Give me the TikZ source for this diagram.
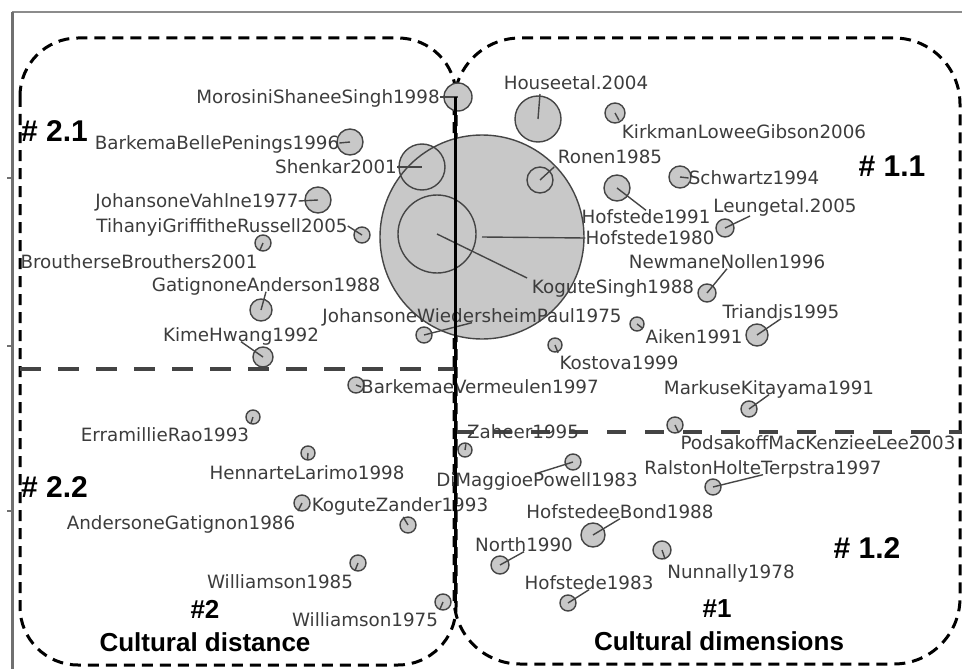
\documentclass[tikz,border=0pt]{standalone}
\usepackage{fontspec}
\setmainfont{Liberation Sans}
\newfontfamily\lblfont{DejaVu Sans}
\usetikzlibrary{calc}
\definecolor{bfill}{HTML}{C8C8C8}
\definecolor{bline}{HTML}{454545}
\definecolor{ltext}{HTML}{3C3C3C}
\definecolor{hdash}{HTML}{444444}
\definecolor{framec}{HTML}{8C8C8C}
\tikzset{
 bub/.style={circle, draw=bline, line width=1.4pt, inner sep=0pt, outer sep=0pt, minimum size=#1},
 lbl/.style={font=\lblfont\fontsize{18.3}{20}\selectfont, text=ltext, inner sep=0pt, text height=13pt, text depth=0pt},
 conn/.style={draw=bline, line width=1.4pt},
 zone/.style={draw=black, line width=3pt, dash pattern=on 11pt off 7pt},
 sepline/.style={draw=hdash, line width=4pt},
 headlbl/.style={font=\bfseries\fontsize{30}{32}\selectfont, text=black, inner sep=0pt},
 titlelbl/.style={font=\bfseries\fontsize{26}{30}\selectfont, text=black, inner sep=0pt},
 vline/.style={draw=black, line width=3pt},
}
\def\bubbles{hofeighty/482/237/102, kogsingh/437/234/39,
 morosini/458/97/14, barkema/350/142/13, shenkar/422/167/23, johvahlne/318/200/13,
 tihanyi/362/235/8, brouthers/263/243/8, gatignon/261/310/11, kimhwang/263/357/10,
 johwied/424/335/8, barkver/356/385/8, erramilli/253/417/7, hennart/308/453/7,
 andgat/302/503/8, kogzander/408/525/8, willeightyfive/358/563/8, willseventyfive/443/602/8,
 house/538/119/23, kirkman/615/113/10, ronen/540/180/13, schwartz/680/177/11,
 hofninetyone/617/188/13, leung/725/228/9, newman/707/293/9, triandis/757/335/11,
 aiken/637/324/7, kostova/555/345/7, markus/749/409/8, podsakoff/675/425/8,
 zaheer/465/450/7, dimaggio/573/462/8, ralston/713/487/8, hofbond/593/535/12,
 north/500/565/9, nunnally/662/550/9, hofeightythree/568/603/8}
\begin{document}
\begin{tikzpicture}[x=1pt,y=-1pt]
\useasboundingbox (0,0) rectangle (962,669);
% frame
\draw[framec, line width=1.2pt] (12,12) -- (962,12);
\draw[framec!80!black, line width=3pt] (12,12) -- (12,669);
\foreach \ty in {178,346,511} \draw[framec!80!black, line width=1.5pt] (7,\ty) -- (12,\ty);
% zones
\draw[zone, rounded corners=58pt] (20,38) rectangle (456,665);
\draw[zone, rounded corners=66pt] (454,38) rectangle (960,664);
\draw[sepline, dash pattern=on 21pt off 17pt] (20,369) -- (455,369);
\draw[sepline, dash pattern=on 19pt off 19pt] (455,432) -- (962,432);
% bubbles: fills then outlines
\foreach \n/\x/\y/\r in \bubbles {\fill[bfill] (\x,\y) circle[radius=\r pt];}
\foreach \n/\x/\y/\r in \bubbles {\node[bub={2*\r pt}] (\n) at (\x,\y) {};}
% labels
\node[lbl] (Lmoro) at (318,97) {MorosiniShaneeSingh1998};
\node[lbl] (Lbark) at (217,143) {BarkemaBellePenings1996};
\node[lbl] (Lshen) at (336,167) {Shenkar2001};
\node[lbl] (Ljv) at (197,201) {JohansoneVahlne1977};
\node[lbl] (Ltih) at (222,226) {TihanyiGriffitheRussell2005};
\node[lbl] (Lbrou) at (139,262) {BroutherseBrouthers2001};
\node[lbl] (Lgat) at (266,285) {GatignoneAnderson1988};
\node[lbl] (Lkim) at (241,335) {KimeHwang1992};
\node[lbl] (Ljw) at (472,316) {JohansoneWiedersheimPaul1975};
\node[lbl] (Lbv) at (480,387) {BarkemaeVermeulen1997};
\node[lbl] (Lerr) at (165,435) {ErramillieRao1993};
\node[lbl] (Lhen) at (307,473) {HennarteLarimo1998};
\node[lbl] (Lkz) at (400,505) {KoguteZander1993};
\node[lbl] (Lag) at (181,523) {AndersoneGatignon1986};
\node[lbl] (Lw85) at (280,582) {Williamson1985};
\node[lbl] (Lw75) at (365,620) {Williamson1975};
\node[lbl] (Lhouse) at (576,83) {Houseetal.2004};
\node[lbl] (Lkirk) at (744,132) {KirkmanLoweeGibson2006};
\node[lbl] (Lronen) at (610,157) {Ronen1985};
\node[lbl] (Lsch) at (754,178) {Schwartz1994};
\node[lbl] (Lh91) at (646,217) {Hofstede1991};
\node[lbl] (Lleung) at (785,206) {Leungetal.2005};
\node[lbl] (Lh80) at (650,238) {Hofstede1980};
\node[lbl] (Lks) at (613,287) {KoguteSingh1988};
\node[lbl] (Lnew) at (727,262) {NewmaneNollen1996};
\node[lbl] (Ltri) at (781,312) {Triandis1995};
\node[lbl] (Laik) at (694,337) {Aiken1991};
\node[lbl] (Lkos) at (619,363) {Kostova1999};
\node[lbl] (Lmar) at (769,388) {MarkuseKitayama1991};
\node[lbl] (Lpod) at (818,443) {PodsakoffMacKenzieeLee2003};
\node[lbl] (Lzah) at (523,432) {Zaheer1995};
\node[lbl] (Ldim) at (537,480) {DiMaggioePowell1983};
\node[lbl] (Lral) at (763,468) {RalstonHolteTerpstra1997};
\node[lbl] (Lhb) at (620,512) {HofstedeeBond1988};
\node[lbl] (Lnorth) at (524,545) {North1990};
\node[lbl] (Lnun) at (731,572) {Nunnally1978};
\node[lbl] (Lh83) at (589,583) {Hofstede1983};
% free ends
\coordinate (houseEnd) at (540,94);
\coordinate (leungEnd) at (750,216);
% connectors
\draw[conn] (Lmoro.east) -- (morosini.center);
\draw[conn] (Lbark.east) -- (barkema.center);
\draw[conn] (Lshen.east) -- (shenkar.center);
\draw[conn] (Ljv.east) -- (johvahlne.center);
\draw[conn] (Ltih.east) -- (tihanyi.center);
\draw[conn] (brouthers.center) -- ($(brouthers.center)!0.6!(Lbrou.north east)$);
\draw[conn] (gatignon.center) -- (Lgat.south);
\draw[conn] (Lkim.south) -- (kimhwang.center);
\draw[conn] (johwied.center) -- (Ljw.south);
\draw[conn] (Lbv.west) -- (barkver.center);
\draw[conn] (erramilli.center) -- ($(erramilli.center)!0.6!(Lerr.north east)$);
\draw[conn] (hennart.center) -- ($(hennart.center)!0.5!(Lhen.north)$);
\draw[conn] (andgat.center) -- ($(andgat.center)!0.6!(Lag.north east)$);
\draw[conn] (kogzander.center) -- ($(kogzander.center)!0.6!(Lkz.south)$);
\draw[conn] (willeightyfive.center) -- ($(willeightyfive.center)!0.6!(Lw85.north east)$);
\draw[conn] (willseventyfive.center) -- ($(willseventyfive.center)!0.6!(Lw75.north east)$);
\draw[conn] (house.center) -- (houseEnd);
\draw[conn] (kirkman.center) -- ($(kirkman.center)!0.6!(Lkirk.north west)$);
\draw[conn] (ronen.center) -- ($(ronen.center)!0.8!(Lronen.south west)$);
\draw[conn] (schwartz.center) -- (Lsch.west);
\draw[conn] (hofninetyone.center) -- (Lh91.north);
\draw[conn] (leung.center) -- (leungEnd);
\draw[conn] (hofeighty.center) -- (Lh80.west);
\draw[conn] (kogsingh.center) -- ($(kogsingh.center)!0.95!(Lks.north west)$);
\draw[conn] (newman.center) -- (Lnew.south);
\draw[conn] (triandis.center) -- (Ltri.south);
\draw[conn] (aiken.center) -- ($(aiken.center)!0.7!(Laik.north west)$);
\draw[conn] (kostova.center) -- ($(kostova.center)!0.7!(Lkos.north west)$);
\draw[conn] (markus.center) -- (Lmar.south);
\draw[conn] (podsakoff.center) -- ($(podsakoff.center)!0.7!(Lpod.north west)$);
\draw[conn] (zaheer.center) -- ($(zaheer.center)!0.5!(Lzah.south west)$);
\draw[conn] (dimaggio.center) -- (Ldim.north);
\draw[conn] (ralston.center) -- (Lral.south);
\draw[conn] (hofbond.center) -- (Lhb.south);
\draw[conn] (north.center) -- (Lnorth.south);
\draw[conn] (nunnally.center) -- ($(nunnally.center)!0.6!(Lnun.north west)$);
\draw[conn] (hofeightythree.center) -- (Lh83.south);
% main vertical line
\coordinate (vtop) at (455,97);
\coordinate (vbot) at (455,603);
\draw[vline] (vtop) -- (vbot);
% headings
\node[headlbl, anchor=west] (h21) at (21,131) {\# 2.1};
\node[headlbl, anchor=west] (h22) at (21,487) {\# 2.2};
\node[headlbl] (h11) at (892,166) {\# 1.1};
\node[headlbl] (h12) at (867,548) {\# 1.2};
\node[titlelbl] (n2) at (205,609) {\#2};
\node[titlelbl] (t2) at (205,642) {Cultural distance};
\node[titlelbl] (n1) at (717,609) {\#1};
\node[titlelbl] (t1) at (719,641) {Cultural dimensions};
\end{tikzpicture}
\end{document}
